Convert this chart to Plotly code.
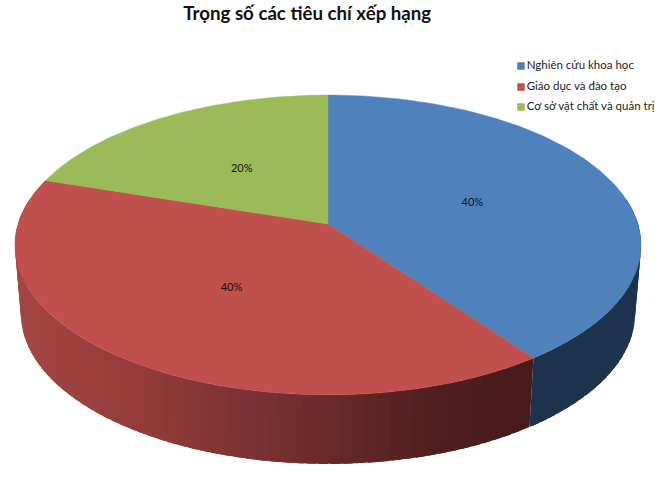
import numpy as np
import plotly.graph_objects as go

title = "Trọng số các tiêu chí xếp hạng"
categories = ["Nghiên cứu khoa học", "Giáo dục và đào tạo", "Cơ sở vật chất và quản trị"]
values = [40, 40, 20]
top_colors = ["#4F81BD", "#C0504D", "#9BBB59"]

# side wall shading, by pixel x position
blue_side_x = [500, 640]
blue_side_rgb = [(29, 50, 77), (30, 52, 79)]
red_side_x = [15, 150, 300, 420, 535]
red_side_rgb = [(165, 70, 68), (146, 59, 58), (112, 46, 46), (84, 32, 32), (70, 27, 27)]

FONT = "Lato"
W, H = 665, 488
CX, CY = 328, 224
RX, RY, PERSP = 310, 147, 0.14
RX_LOW, DEPTH = 304, 69


def project(theta_deg, r=1.0, rx=RX, drop=0):
    # clockwise from 12 o'clock, with a bit of perspective towards the viewer
    t = np.radians(theta_deg)
    u, v = r * np.sin(t), -r * np.cos(t)
    w = 1 - PERSP * v
    return CX + rx * u / w, CY + drop + RY * v / w


def side_color(x, xs, rgb):
    return "rgb(%d,%d,%d)" % tuple(np.interp(x, xs, [c[i] for c in rgb]) for i in range(3))


total = sum(values)
edges = np.cumsum([0] + values) / total * 360

fig = go.Figure()

# side wall, strips overlap the next one so no seams show
for i, (a, b) in enumerate(zip(edges[:-1], edges[1:])):
    lo, hi = max(a, 80), min(b, 280)
    if lo >= hi or i > 1:
        continue
    n = max(int((hi - lo) / 2), 1)
    steps = np.linspace(lo, hi, n + 1)
    for s0, s1 in zip(steps[:-1], steps[1:]):
        s_end = min(s1 + 1.5, hi)
        arc = np.linspace(s0, s_end, 5)
        xt, yt = project(arc)
        xb, yb = project(arc[::-1], rx=RX_LOW, drop=DEPTH)
        col = side_color(xt[:3].mean(), blue_side_x, blue_side_rgb) if i == 0 else side_color(xt[:3].mean(), red_side_x, red_side_rgb)
        fig.add_trace(go.Scatter(
            x=np.r_[xt, xb, xt[0]], y=np.r_[yt, yb, yt[0]],
            mode="lines", fill="toself", fillcolor=col,
            line=dict(width=0), hoverinfo="skip", showlegend=False,
        ))

# top face
for i, (a, b) in enumerate(zip(edges[:-1], edges[1:])):
    steps = np.linspace(a, b, 200)
    xs, ys = project(steps)
    fig.add_trace(go.Scatter(
        x=np.r_[CX, xs, CX], y=np.r_[CY, ys, CY],
        mode="lines", fill="toself", fillcolor=top_colors[i],
        line=dict(color=top_colors[i], width=0.5),
        name=categories[i], hoverinfo="name", showlegend=False,
    ))

# data labels
mids = (edges[:-1] + edges[1:]) / 2
lx, ly = project(mids, r=0.5)
fig.add_trace(go.Scatter(
    x=lx, y=ly + 1.5, mode="text", text=["%d%%" % v for v in values],
    textfont=dict(family=FONT, size=11, color="#111111"),
    hoverinfo="skip", showlegend=False,
))

# legend
fig.add_trace(go.Scatter(
    x=[521] * 3, y=[66, 87, 107], mode="markers+text",
    marker=dict(symbol="square", size=7.5, color=top_colors),
    text=categories, textposition="middle right",
    textfont=dict(family=FONT, size=11.5, color="#222222"),
    hoverinfo="skip", showlegend=False,
))

fig.update_layout(
    width=W, height=H, margin=dict(l=0, r=0, t=0, b=0),
    paper_bgcolor="white", plot_bgcolor="white",
    title=dict(text="<b>%s</b>" % title, x=0.462, xanchor="center", y=0.972, yanchor="middle",
               font=dict(family=FONT, size=18.7, color="#111111")),
    xaxis=dict(range=[0, W], visible=False, fixedrange=True),
    yaxis=dict(range=[H, 0], visible=False, fixedrange=True),
)

# page margin would push the plot 8px off
fig.write_html("out.html", config={"displayModeBar": False},
               post_script="document.body.style.margin='0';")
